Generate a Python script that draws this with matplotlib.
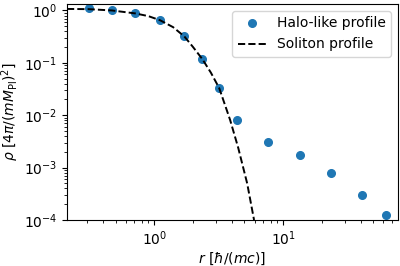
import matplotlib
matplotlib.use("Agg")
import matplotlib.pyplot as plt

# halo-like profile
r_halo = [0.313, 0.472, 0.712, 1.11, 1.71, 2.36, 3.19, 4.40, 7.65, 13.5, 23.5, 41.0, 63.0]
rho_halo = [1.10, 1.02, 0.885, 0.659, 0.326, 0.119, 0.0332, 0.0081, 0.0031, 0.00175, 0.00079, 0.00030, 0.000126]

# soliton profile (dashed curve, sampled by eye)
r_sol = [0.21, 0.31, 0.47, 0.71, 0.9, 1.11, 1.4, 1.71, 2.0, 2.36, 2.75, 3.19, 3.5, 3.88, 4.48, 5.26, 5.95]
rho_sol = [1.07, 1.06, 1.0, 0.88, 0.78, 0.65, 0.48, 0.32, 0.2, 0.118, 0.065, 0.033, 0.017, 0.0081, 0.0024, 0.0005, 0.0001]

fig = plt.figure(figsize=(4, 2.66), dpi=100)
ax = fig.add_axes([0.1675, 0.173, 0.8275, 0.812])

ax.plot(r_halo, rho_halo, 'o', color='tab:blue', markersize=5.5, label="Halo-like profile")
ax.plot(r_sol, rho_sol, '--', color='black', lw=1.4, label="Soliton profile")

ax.set_xscale('log')
ax.set_yscale('log')
ax.set_xlim(0.21, 78)
ax.set_ylim(1e-4, 1.33)

ax.set_xlabel(r'$r\ [\hbar/(mc)]$', fontsize=10, labelpad=2)
ax.set_ylabel(r'$\rho\ [4\pi/(mM_{\rm Pl})^2]$', fontsize=10, labelpad=2)
ax.tick_params(labelsize=10)
ax.legend(loc='upper right', fontsize=10)

fig.savefig("out.png", dpi=100)
